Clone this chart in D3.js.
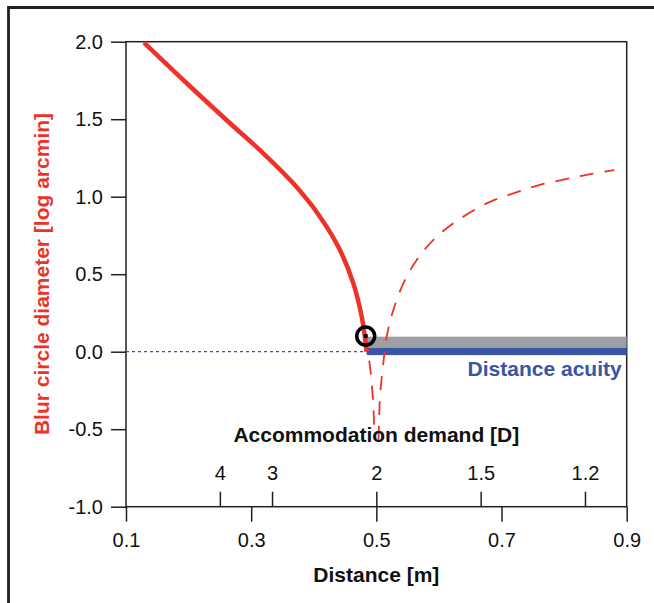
<!DOCTYPE html>
<html>
<head>
<meta charset="utf-8">
<script src="https://cdn.jsdelivr.net/npm/d3@7"></script>
<style>
  html, body { margin: 0; padding: 0; background: #fff; }
  svg { display: block; }
  text { font-family: "Liberation Sans", Arial, Helvetica, sans-serif; }
</style>
</head>
<body>
<svg id="chart" width="654" height="603"></svg>
<script>
// ---- data ----
const distanceTicks = [0.1, 0.3, 0.5, 0.7, 0.9];
const blurTicks = [-1.0, -0.5, 0.0, 0.5, 1.0, 1.5, 2.0];
const diopterTicks = [4, 3, 2, 1.5, 1.2];

// solid curve (near side)
const solidX = [0.1288, 0.1970, 0.2662, 0.3194, 0.3673, 0.4099, 0.4418, 0.4632, 0.4766, 0.4846];
const solidY = [1.994, 1.732, 1.474, 1.280, 1.086, 0.871, 0.656, 0.441, 0.226, 0.000];

// dashed curve, left arm
const dashLeftX = [0.4830, 0.4846, 0.4899, 0.4951, 0.4970];
const dashLeftY = [0.101, 0.043, -0.097, -0.344, -0.570];

// dashed curve, right arm
const dashRightX = [0.5034, 0.5045, 0.5058, 0.5111, 0.5165, 0.5271, 0.5431, 0.5645, 0.5937, 0.6309, 0.6763, 0.7188, 0.7614, 0.8094, 0.8418, 0.8802];
const dashRightY = [-0.570, -0.428, -0.290, -0.075, 0.097, 0.269, 0.441, 0.592, 0.732, 0.850, 0.957, 1.022, 1.076, 1.119, 1.145, 1.172];

// distance-acuity bands
const acuityStart = [0.4846];
const grayBand = [0.026, 0.097];
const blueBand = [-0.022, 0.026];
const focusPoint = [0.483, 0.101];

// ---- drawing ----
const svg = d3.select("#chart");
const x = d3.scaleLinear().domain([0.1, 0.9]).range([126, 626.7]);
const y = d3.scaleLinear().domain([-1, 2]).range([506.7, 41.7]);

const ink = "#231f20";
const red = "#ee3129";
const blue = "#3a55a4";
const gray = "#9d9fa2";

// outer frame (top and left edges)
svg.append("path")
  .attr("d", `M8.5,603 L8.5,7.5 L654,7.5`)
  .attr("fill", "none").attr("stroke", ink).attr("stroke-width", 2.8);

// plot frame
svg.append("rect")
  .attr("x", x(0.1)).attr("y", y(2))
  .attr("width", x(0.9) - x(0.1)).attr("height", y(-1) - y(2))
  .attr("fill", "none").attr("stroke", ink).attr("stroke-width", 1.5);

// y axis
const yAxis = svg.append("g")
  .attr("transform", `translate(${x(0.1)},0)`)
  .call(d3.axisLeft(y).tickValues(blurTicks).tickSize(15).tickSizeOuter(0).tickPadding(8)
        .tickFormat(d => d.toFixed(1)));
yAxis.select(".domain").remove();
yAxis.selectAll("line").attr("stroke", ink).attr("stroke-width", 1.5);
yAxis.selectAll("text").attr("font-size", 20).attr("fill", "#111");

// bottom x axis
const xAxis = svg.append("g")
  .attr("transform", `translate(0,${y(-1)})`)
  .call(d3.axisBottom(x).tickValues(distanceTicks).tickSize(15).tickSizeOuter(0).tickPadding(11)
        .tickFormat(d => d.toFixed(1)));
xAxis.select(".domain").remove();
xAxis.selectAll("line").attr("stroke", ink).attr("stroke-width", 1.5);
xAxis.selectAll("text").attr("font-size", 20).attr("fill", "#111");

// diopter axis (top side of bottom axis)
const dAxis = svg.append("g")
  .attr("transform", `translate(0,${y(-1)})`)
  .call(d3.axisTop(x).tickValues(diopterTicks.map(d => 1 / d)).tickSize(15).tickSizeOuter(0).tickPadding(12)
        .tickFormat((d, i) => String(diopterTicks[i])));
dAxis.select(".domain").remove();
dAxis.selectAll("line").attr("stroke", ink).attr("stroke-width", 1.5);
dAxis.selectAll("text").attr("font-size", 20).attr("fill", "#111");

// dotted zero line
svg.append("line")
  .attr("x1", x(0.1)).attr("x2", x(acuityStart[0]))
  .attr("y1", y(0)).attr("y2", y(0))
  .attr("stroke", blue).attr("stroke-width", 1.3).attr("stroke-dasharray", "3,3");

// bands
svg.append("rect")
  .attr("x", x(acuityStart[0])).attr("width", x(0.9) - x(acuityStart[0]))
  .attr("y", y(grayBand[1])).attr("height", y(grayBand[0]) - y(grayBand[1]))
  .attr("fill", gray);
svg.append("rect")
  .attr("x", x(acuityStart[0])).attr("width", x(0.9) - x(acuityStart[0]))
  .attr("y", y(blueBand[1])).attr("height", y(blueBand[0]) - y(blueBand[1]))
  .attr("fill", blue);

// dashed curves
const lineGen = d3.line().x(d => x(d[0])).y(d => y(d[1])).curve(d3.curveCatmullRom);
svg.append("path")
  .datum(dashLeftX.map((v, i) => [v, dashLeftY[i]]))
  .attr("d", lineGen)
  .attr("fill", "none").attr("stroke", red).attr("stroke-width", 1.8)
  .attr("stroke-dasharray", "14,11");
svg.append("path")
  .datum(dashRightX.map((v, i) => [v, dashRightY[i]]))
  .attr("d", lineGen)
  .attr("fill", "none").attr("stroke", red).attr("stroke-width", 1.8)
  .attr("stroke-dasharray", "14,11");

// solid curve
svg.append("path")
  .datum(solidX.map((v, i) => [v, solidY[i]]))
  .attr("d", lineGen)
  .attr("fill", "none").attr("stroke", red).attr("stroke-width", 4.5)
  .attr("stroke-linecap", "butt");

// focus marker
svg.append("circle")
  .attr("cx", x(focusPoint[0])).attr("cy", y(focusPoint[1])).attr("r", 9)
  .attr("fill", "none").attr("stroke", "#000").attr("stroke-width", 3.5);
svg.append("rect")
  .attr("x", x(focusPoint[0]) - 2).attr("y", y(focusPoint[1]) - 2)
  .attr("width", 4).attr("height", 4).attr("fill", "#000");

// labels
svg.append("text")
  .attr("x", 621.7).attr("y", 376)
  .attr("text-anchor", "end").attr("font-size", 21).attr("font-weight", "bold")
  .attr("fill", blue).text("Distance acuity");

svg.append("text")
  .attr("x", x(0.5)).attr("y", 441.7)
  .attr("text-anchor", "middle").attr("font-size", 21).attr("font-weight", "bold")
  .attr("fill", "#111").text("Accommodation demand [D]");

svg.append("text")
  .attr("x", x(0.5)).attr("y", 582)
  .attr("text-anchor", "middle").attr("font-size", 21).attr("font-weight", "bold")
  .attr("fill", "#111").text("Distance [m]");

svg.append("text")
  .attr("transform", `translate(49,274) rotate(-90)`)
  .attr("text-anchor", "middle").attr("font-size", 21).attr("font-weight", "bold")
  .attr("fill", red).text("Blur circle diameter [log arcmin]");
</script>
</body>
</html>
